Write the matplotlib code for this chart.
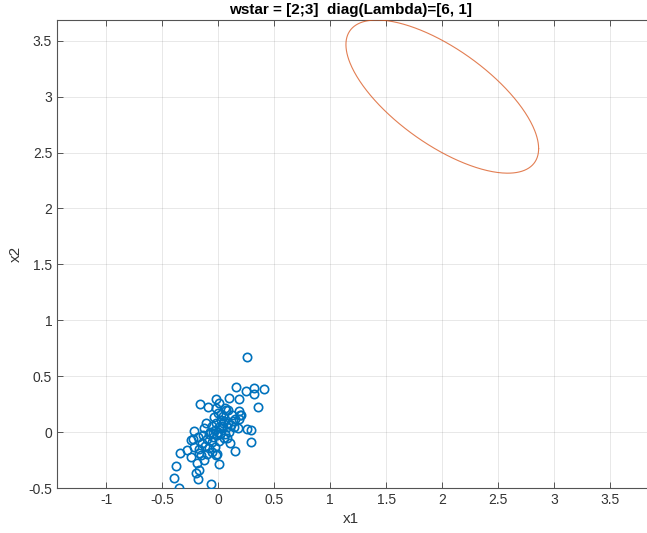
import numpy as np
import matplotlib
matplotlib.use("Agg")
import matplotlib.pyplot as plt

plt.rcParams['font.family'] = ['Liberation Sans', 'DejaVu Sans']

x1 = [0.256, 0.161, 0.315, 0.404, 0.25, 0.315, -0.167, -0.092, -0.018, 0.098,
      0.181, 0.354, -0.018, 0.063, 0.087, 0.188, 0.024, 0.122, 0.19, 0.027,
      0.042, 0.181, -0.107, -0.131, -0.22, 0.003, 0.078, 0.137, 0.172, 0.256,
      0.295, -0.047, 0.018, -0.181, -0.241, 0.078, -0.146, -0.056, 0.107, 0.295,
      0.152, -0.279, -0.339, -0.176, -0.087, -0.018, -0.154, -0.244, -0.131, -0.19,
      0.003, -0.378, -0.176, -0.196, -0.393, -0.181, -0.0625, -0.354, -0.042, 0.054,
      -0.012, -0.056, -0.22, -0.226, 0.003,
      0.0, 0.03, -0.03, 0.05, -0.02, 0.06, -0.05, 0.01, 0.09, -0.08,
      0.1, -0.1, 0.04, -0.12, -0.03, 0.13, -0.06, 0.0, 0.07, -0.14,
      -0.17, -0.1, 0.02, -0.01, 0.11, 0.15, -0.07, 0.2]
x2 = [0.667, 0.404, 0.396, 0.381, 0.369, 0.337, 0.247, 0.226, 0.292, 0.306,
      0.297, 0.221, 0.217, 0.212, 0.196, 0.19, 0.161, 0.152, 0.152, 0.107,
      0.083, 0.116, 0.078, 0.033, 0.012, 0.042, 0.042, 0.042, 0.033, 0.024,
      0.018, -0.012, -0.021, -0.047, -0.071, -0.056, -0.101, -0.087, -0.101, -0.087,
      -0.17, -0.161, -0.185, -0.154, -0.146, -0.205, -0.205, -0.226, -0.25, -0.279,
      -0.286, -0.304, -0.339, -0.369, -0.408, -0.422, -0.464, -0.5, 0.137, -0.051,
      -0.199, -0.181, -0.131, -0.065, 0.256,
      0.0, 0.05, 0.02, 0.1, 0.08, -0.02, -0.04, -0.08, 0.08, -0.02,
      0.0, -0.06, 0.14, -0.12, -0.13, 0.1, 0.05, 0.17, 0.2, -0.03,
      -0.19, -0.2, 0.04, -0.03, 0.06, 0.12, 0.0, 0.15]

wstar = [2, 3]
S = np.array([[0.74, -0.40], [-0.40, 0.469]])

blue = (0, 0.447, 0.741)
orange = (0.85, 0.325, 0.098)
axcol = (0.33, 0.33, 0.33)

fig = plt.figure(figsize=(6.47, 5.33), dpi=100)
# axes run past the right edge of the figure (cropped like the original)
ax = fig.add_axes([57/647, 45/533, 603/647, 468/533])

ax.plot(x1, x2, 'o', mfc='none', mec=blue, ms=6, mew=1.2, zorder=3)

t = np.linspace(0, 2*np.pi, 400)
L = np.linalg.cholesky(S)
e = np.array(wstar)[:, None] + L @ np.vstack([np.cos(t), np.sin(t)])
ax.plot(e[0], e[1], color=orange, lw=0.8, alpha=0.75, zorder=3)

ax.set_xlim(-1.44, -1.44 + 603/112)
ax.set_ylim(-0.5, wstar[1] + np.sqrt(S[1, 1]))
ax.set_xticks(np.arange(-1, 3.51, 0.5))
ax.set_yticks(np.arange(-0.5, 3.51, 0.5))
ax.set_xticklabels(['-1', '-0.5', '0', '0.5', '1', '1.5', '2', '2.5', '3', '3.5'])
ax.set_yticklabels(['-0.5', '0', '0.5', '1', '1.5', '2', '2.5', '3', '3.5'])

ax.grid(True, color=(0.15, 0.15, 0.15), alpha=0.12, lw=0.6)
ax.set_axisbelow(True)
ax.tick_params(direction='in', length=4, width=0.7, top=True, right=True,
               colors=axcol, labelcolor=(0.2, 0.2, 0.2), labelsize=10)
for s in ax.spines.values():
    s.set_color(axcol)
    s.set_linewidth(0.8)

xc = (351 - 57) / 603  # centre of the visible part
ax.set_xlabel('x1', fontsize=11, color=(0.2, 0.2, 0.2), x=xc, ha='center')
ax.set_ylabel('x2', fontsize=11, color=(0.2, 0.2, 0.2))
ax.set_title('wstar = [2;3]  diag(Lambda)=[6, 1]', fontsize=11,
             fontweight='bold', x=xc, ha='center', pad=4)

fig.savefig('out.png', dpi=100)
